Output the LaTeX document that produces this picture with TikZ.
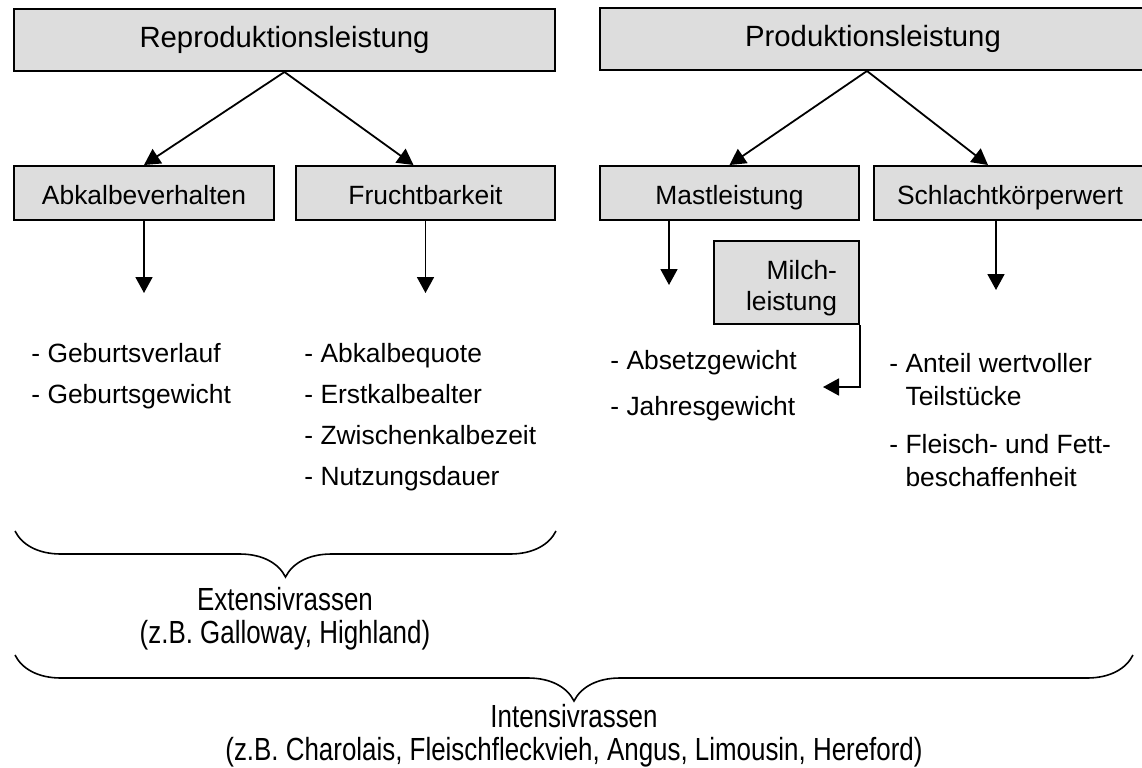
\documentclass[tikz,border=0pt]{standalone}
\usepackage{fontspec}
\setmainfont{Liberation Sans}
\newfontfamily\schmal{Liberation Sans}[FakeStretch=0.81]
\usepackage{xcolor}
\definecolor{kastengrau}{RGB}{221,221,221}
\usepackage{tikz}
\usetikzlibrary{positioning,arrows.meta,calc,decorations.pathreplacing}

\begin{document}
\begin{tikzpicture}[x=0.5pt,y=-0.5pt,font=\fontsize{13.2}{16.5}\selectfont,
  kasten/.style={draw,fill=kastengrau,line width=1pt,inner sep=0pt},
  zeile/.style={text height=13pt,text depth=1.5pt},
  pfeil/.style={-{Triangle[length=8pt,width=8.5pt]},line width=0.9pt},
  liste/.style={align=left,anchor=north west,inner sep=0pt},
  klammer/.style={decorate,decoration={brace,mirror,amplitude=23pt},line width=0.8pt},
  rassen/.style={align=center,inner sep=0pt,font=\schmal\fontsize{16}{16.5}\selectfont}]
  \useasboundingbox (0,0) rectangle (1142,767);
  % Obere Kaesten
  \node[kasten,minimum width=270.5pt,minimum height=31pt,font=\fontsize{14.65}{17}\selectfont]
    (repro) at (284.5,40) {Reproduktionsleistung};
  \node[kasten,minimum width=273pt,minimum height=31pt,font=\fontsize{14.65}{17}\selectfont]
    (prod) at (873,39) {Produktionsleistung};
  % Zweite Reihe
  \node[kasten,zeile,minimum width=130pt,minimum height=27pt] (abkalb) at (144,193) {Abkalbeverhalten};
  \node[kasten,zeile,minimum width=129.5pt,minimum height=27pt] (frucht) at (425.5,193) {Fruchtbarkeit};
  \node[kasten,zeile,minimum width=129.5pt,minimum height=27pt] (mast) at (729.5,193) {Mastleistung};
  \node[kasten,zeile,minimum width=136pt,minimum height=27pt] (schlacht) at (1010,193) {Schlachtkörperwert};
  \node[kasten,align=right,text width=50.5pt,inner xsep=11pt,minimum height=41.5pt,
    font=\fontsize{13.2}{15.5}\selectfont] (milch) at (786.5,282.5) {\rule{0pt}{15pt}Milch-\\leistung};
  % Merkmale
  \node[liste] (abkalbliste) at (31,343) {- Geburtsverlauf\\[4pt]- Geburtsgewicht};
  \node[liste] (fruchtliste) at (304,343)
    {- Abkalbequote\\[4pt]- Erstkalbealter\\[4pt]- Zwischenkalbezeit\\[4pt]- Nutzungsdauer};
  \node[liste] (mastliste) at (610,350) {- Absetzgewicht\\[6.5pt]- Jahresgewicht};
  \node[liste] (schlachtliste) at (889,353)
    {- Anteil wertvoller\\\phantom{- }Teilstücke\\[7.5pt]- Fleisch- und Fett-\\\phantom{- }beschaffenheit};
  % Pfeile
  \draw[pfeil] (repro.south) -- (abkalb.north);
  \draw[pfeil] (repro.south) -- ([xshift=-6pt]frucht.north);
  \draw[pfeil] ([xshift=-3pt]prod.south) -- (mast.north);
  \draw[pfeil] ([xshift=-3pt]prod.south) -- ([xshift=-11pt]schlacht.north);
  \coordinate (abkalbende) at (144,293);
  \coordinate (fruchtende) at (425.5,293);
  \coordinate (mastende) at (669,285);
  \coordinate (schlachtende) at (996,290);
  \coordinate (milchende) at (823,387);
  \draw[pfeil] (abkalb.south) -- (abkalbende);
  \draw[pfeil] (frucht.south) -- (fruchtende);
  \draw[pfeil] (mast.south -| mastende) -- (mastende);
  \draw[pfeil] (schlacht.south -| schlachtende) -- (schlachtende);
  \draw[pfeil] (milch.south east) |- (milchende);
  % Klammern
  \coordinate (extlinks) at (15,531);
  \coordinate (extrechts) at (556,531);
  \draw[klammer] (extlinks) -- (extrechts);
  \node[rassen] (extensiv) at (285,619) {Extensivrassen\\(z.B. Galloway, Highland)};
  \coordinate (intlinks) at (15,655);
  \coordinate (intrechts) at (1133,655);
  \draw[klammer] (intlinks) -- (intrechts);
  \node[rassen] (intensiv) at (574,736)
    {Intensivrassen\\(z.B. Charolais, Fleischfleckvieh, Angus, Limousin, Hereford)};
\end{tikzpicture}
\end{document}
